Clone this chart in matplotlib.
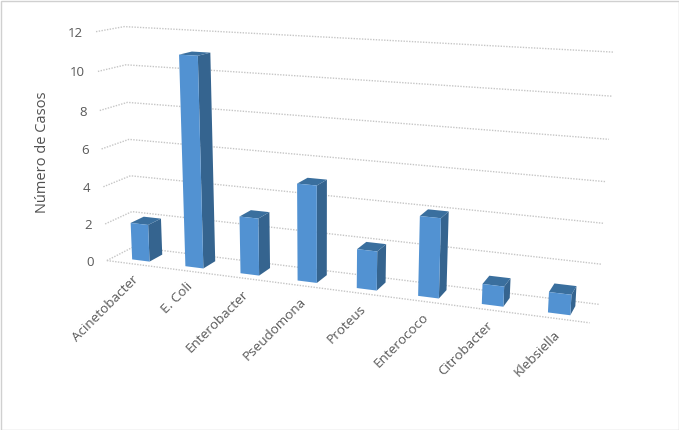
import numpy as np
import matplotlib
matplotlib.use('Agg')
import matplotlib.pyplot as plt
from matplotlib.patches import Polygon, Rectangle

#data
categories = ['Acinetobacter', 'E. Coli', 'Enterobacter', 'Pseudomona',
              'Proteus', 'Enterococo', 'Citrobacter', 'Klebsiella']
casos = [2, 11, 3, 5, 2, 4, 1, 1]
y_ticks = [0, 2, 4, 6, 8, 10, 12]

#camera: chart space (category, value, depth) to image pixels
world_pts = [(0, 0, 0), (8, 0, 0), (0, 0, 1), (8, 0, 1), (0, 12, 1), (8, 12, 1),
             (0, 12, 0), (0, 6, 1), (8, 6, 1), (0, 6, 0)]
pixel_pts = [(108, 260), (590, 323), (133, 248), (598, 304), (127, 26), (614, 52),
             (94, 33), (127, 139), (607, 182), (102, 148)]


def fit_camera(world, pixel):
    rows = []
    for (X, Y, Z), (u, v) in zip(world, pixel):
        rows.append([X, Y, Z, 1, 0, 0, 0, 0, -u * X, -u * Y, -u * Z, -u])
        rows.append([0, 0, 0, 0, X, Y, Z, 1, -v * X, -v * Y, -v * Z, -v])
    return np.linalg.svd(np.array(rows, dtype=float))[2][-1].reshape(3, 4)


P = fit_camera(world_pts, pixel_pts)


def proj(cat, val, depth):
    p = P @ np.array([cat, val, depth, 1.0])
    return p[0] / p[2], p[1] / p[2]


#canvas in pixels
fig = plt.figure(figsize=(6.79, 4.30), dpi=100)
ax = fig.add_axes([0, 0, 1, 1])
ax.set_xlim(0, 679)
ax.set_ylim(430, 0)
ax.axis('off')
ax.add_patch(Rectangle((0.5, 0.5), 678, 429, fill=False, ec='#d0d0d0', lw=1))

plt.rcParams['font.family'] = ['Open Sans', 'DejaVu Sans']
n = len(categories)
grid_color = '#c6c6c6'
dots = (0, (1, 1))

#gridlines on side wall and back wall
for v in y_ticks:
    pts = [proj(0, v, 0), proj(0, v, 1), proj(n, v, 1)]
    ax.plot(*zip(*pts), color=grid_color, lw=1, ls=dots, zorder=1)
    x0, y0 = pts[0]
    ax.text(x0 - 13, y0 + 1.5, str(v), ha='right', va='center', fontsize=9.5,
            color='#595959')
ax.plot(*zip(proj(0, 0, 0), proj(n, 0, 0)), color=grid_color, lw=1, ls=dots, zorder=1)

#bars
half = 0.165
front, back = 0.25, 0.75
for i, val in enumerate(casos):
    c = i + 0.52
    a, b = c - half, c + half
    face = [proj(a, 0, front), proj(b, 0, front), proj(b, val, front), proj(a, val, front)]
    side = [proj(b, 0, front), proj(b, 0, back), proj(b, val, back), proj(b, val, front)]
    top = [proj(a, val, front), proj(b, val, front), proj(b, val, back), proj(a, val, back)]
    ax.add_patch(Polygon(side, fc='#35648f', ec='none', zorder=3))
    ax.add_patch(Polygon(top, fc='#3a6f9e', ec='none', zorder=3))
    ax.add_patch(Polygon(face, fc='#5292d2', ec='none', zorder=4))

    lx, ly = proj(i + 0.5, 0, 0)
    ax.text(lx + 3, ly + 14, categories[i], rotation=45, rotation_mode='anchor',
            ha='right', va='center', fontsize=9.7, color='#595959')

ax.text(42, 152, 'Número de Casos', rotation=90, ha='center', va='center',
        fontsize=10.5, color='#505050')

fig.savefig('out.png', dpi=100)
